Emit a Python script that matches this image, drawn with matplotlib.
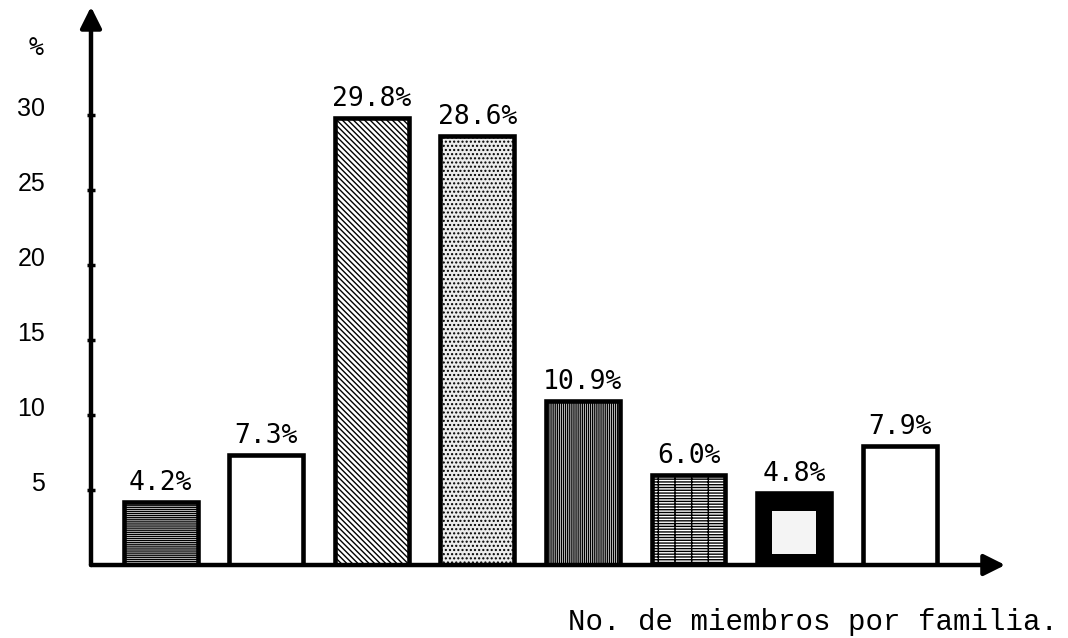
import numpy as np
import matplotlib
matplotlib.use("Agg")
import matplotlib.pyplot as plt
from matplotlib.transforms import ScaledTranslation

# data
values = [4.2, 7.3, 29.8, 28.6, 10.9, 6.0, 4.8, 7.9]
bar_labels = ["4.2%", "7.3%", "29.8%", "28.6%", "10.9%", "6.0%", "4.8%", "7.9%"]
y_ticks = [5, 10, 15, 20, 25, 30]
y_tick_labels = ["5", "10", "15", "20", "25", "30"]
x_title = "No. de miembros por familia."

# fill styles for each bar (face, hatch)
styles = [
    ("white", "--------"),
    ("white", ""),
    ("white", "\\\\\\\\\\\\"),
    ("#ececec", "...."),
    ("white", "||||||||"),
    ("white", "-----+"),
    ("black", ""),
    ("white", ""),
]

plt.rcParams["hatch.linewidth"] = 1.0

fig = plt.figure(figsize=(10.68, 6.38), dpi=100)
ax = fig.add_axes([0.0852, 0.1144, 0.856, 0.875])

x = np.arange(len(values))
for xi, v, (fc, h) in zip(x, values, styles):
    ax.bar(xi, v, width=0.7, facecolor=fc, edgecolor="black",
           linewidth=3.3, hatch=h, zorder=2)

# inner light patch of the dark bar
ax.bar(x[6], values[6] * 0.6, bottom=values[6] * 0.15, width=0.42,
       color="#f4f4f4", zorder=3)

for xi, v, lab in zip(x, values, bar_labels):
    ax.text(xi, v + 0.4, lab, ha="center", va="bottom",
            family="DejaVu Sans Mono", fontsize=19)

ax.set_xlim(-0.66, 8.0)
ax.set_ylim(0, 37.2)

for s in ax.spines.values():
    s.set_visible(False)

# axes with arrow heads
ax.annotate("", xy=(1.0, 0), xytext=(0, 0), xycoords="axes fraction",
            arrowprops=dict(arrowstyle="-|>", lw=3.2, color="black",
                            mutation_scale=32, shrinkA=0, shrinkB=0))
ax.annotate("", xy=(0, 1.0), xytext=(0, 0), xycoords="axes fraction",
            arrowprops=dict(arrowstyle="-|>", lw=3.2, color="black",
                            mutation_scale=32, shrinkA=0, shrinkB=0))

ax.set_xticks([])
ax.set_yticks(y_ticks)
ax.set_yticklabels(y_tick_labels, family="Liberation Sans", fontsize=18)
ax.tick_params(axis="y", direction="inout", length=6, width=2.5, pad=30)
shift = ScaledTranslation(0, 8 / 100, fig.dpi_scale_trans)
for lbl in ax.get_yticklabels():
    lbl.set_transform(lbl.get_transform() + shift)

fig.text(36 / 1068, 1 - 48 / 638, "%", ha="center", va="center",
         family="DejaVu Sans Mono", fontsize=18)

fig.text(1058 / 1068, 16 / 638, x_title, ha="right", va="center",
         family="Liberation Mono", fontsize=21)

fig.savefig("out.png", dpi=100)
